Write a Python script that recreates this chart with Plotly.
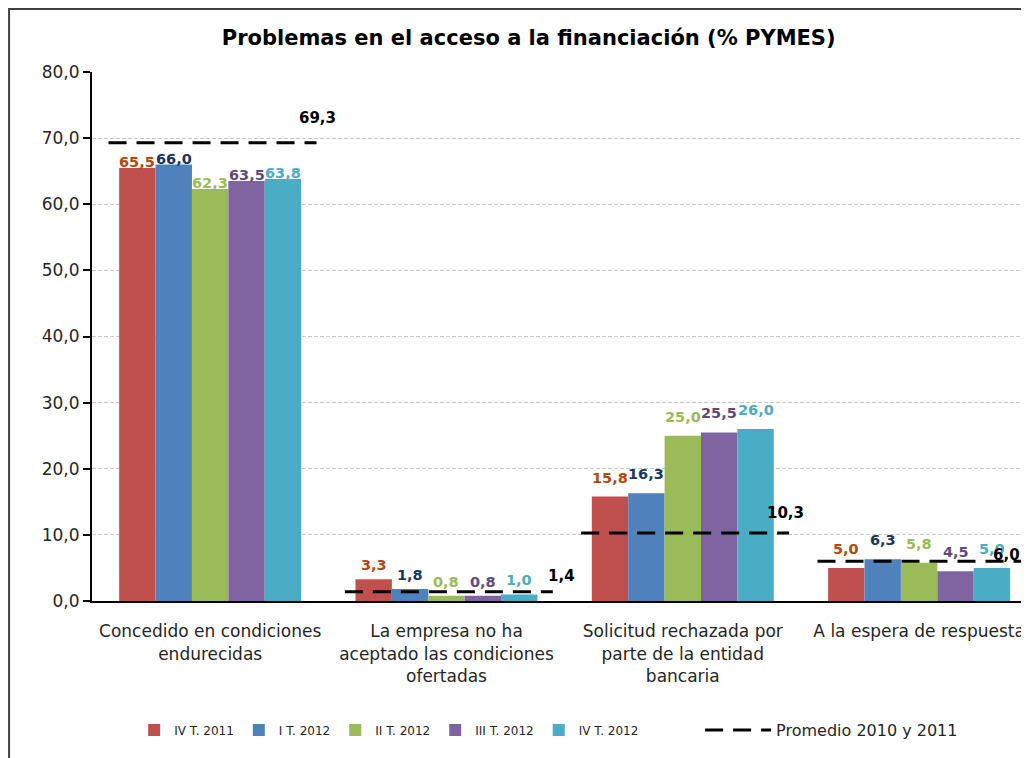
import plotly.graph_objects as go

categories = [
    "Concedido en condiciones<br>endurecidas",
    "La empresa no ha<br>aceptado las condiciones<br>ofertadas",
    "Solicitud rechazada por<br>parte de la entidad<br>bancaria",
    "A la espera de respuesta",
]
series_names = ["IV T. 2011", "I T. 2012", "II T. 2012", "III T. 2012", "IV T. 2012"]
iv_2011 = [65.5, 3.3, 15.8, 5.0]
i_2012 = [66.0, 1.8, 16.3, 6.3]
ii_2012 = [62.3, 0.8, 25.0, 5.8]
iii_2012 = [63.5, 0.8, 25.5, 4.5]
iv_2012 = [63.8, 1.0, 26.0, 5.0]
promedio = [69.3, 1.4, 10.3, 6.0]

bar_colors = ["#C0504D", "#4F81BD", "#9BBB59", "#8064A2", "#4BACC6"]
label_colors = ["#B5470F", "#17375E", "#9BBB59", "#604A7B", "#4BACC6"]
# manual label nudges (px), like the hand-placed labels of the original
bar_label_dy = [-6, 2, 7, 7]
avg_dx = [1, 9, -4, -19]
avg_dy = [14, 5, 9, -5]
FONT = "'DejaVu Sans', Verdana, sans-serif"
BARGAP = 0.23

all_series = [iv_2011, i_2012, ii_2012, iii_2012, iv_2012]
xpos = list(range(len(categories)))
fig = go.Figure()

bar_w = (1 - BARGAP) / len(all_series)
for k, (name, vals, col, lcol) in enumerate(zip(series_names, all_series,
                                                bar_colors, label_colors)):
    fig.add_trace(go.Bar(x=xpos, y=vals, name=name, marker_color=col,
                         marker_line_width=0, legend="legend"))
    for i, v in enumerate(vals):
        fig.add_annotation(x=i + (k - 2) * bar_w, y=v, text=f"{v:.1f}".replace(".", ","),
                           showarrow=False, yanchor="bottom", yshift=2 + bar_label_dy[i],
                           font=dict(size=14.5, color=lcol, family=FONT, weight="bold"))

# average dashed segments, one per category
lx, ly = [], []
for i, v in enumerate(promedio):
    lx += [i - 0.43, i + 0.45, None]
    ly += [v, v, None]
fig.add_trace(go.Scatter(
    x=lx, y=ly, mode="lines", name="Promedio 2010 y 2011",
    line=dict(color="black", width=3, dash="18px,10px"), legend="legend2",
))
for i, v in enumerate(promedio):
    fig.add_annotation(x=i + 0.45, y=v, text=f"{v:.1f}".replace(".", ","),
                       showarrow=False, yanchor="bottom",
                       xshift=avg_dx[i], yshift=avg_dy[i],
                       font=dict(size=15, color="black", family=FONT, weight="bold"))

fig.add_shape(type="rect", xref="paper", yref="paper", x0=-0.0885, x1=1.05,
              y0=-0.4, y1=1.119, line=dict(color="#404040", width=2))

fig.update_layout(
    width=1021, height=750,
    margin=dict(l=84, r=0, t=64, b=157),
    plot_bgcolor="white", paper_bgcolor="white",
    separators=",.",
    font=dict(family=FONT, size=15, color="#262626"),
    title=dict(text="<b>Problemas en el acceso a la financiación (% PYMES)</b>",
               x=0.51, xanchor="center", y=0.96, yanchor="middle",
               font=dict(size=21, color="black", family=FONT)),
    barmode="group", bargap=BARGAP, bargroupgap=0,
    showlegend=True,
    legend=dict(orientation="h", x=0.045, y=-0.244, xanchor="left", yanchor="middle",
                font=dict(size=12), traceorder="normal", itemwidth=30),
    legend2=dict(orientation="h", x=0.649, y=-0.244, xanchor="left", yanchor="middle",
                 font=dict(size=16), itemwidth=66),
    xaxis=dict(range=[-0.5, 3.465], tickvals=xpos, ticktext=categories,
               showline=True, linecolor="black", linewidth=2, showgrid=False,
               ticks="", ticklabelstandoff=14, zeroline=False, automargin=False,
               tickfont=dict(size=17, color="#262626")),
    yaxis=dict(range=[0, 80], dtick=10, tickformat=".1f",
               showline=True, linecolor="black", linewidth=2,
               ticks="outside", ticklen=7, tickcolor="black", tickwidth=2,
               showgrid=True, gridcolor="#C8C8C8", griddash="4px,2px", gridwidth=1,
               zeroline=False, automargin=False,
               tickfont=dict(size=17, color="#262626")),
)

fig.write_html("out.html")
